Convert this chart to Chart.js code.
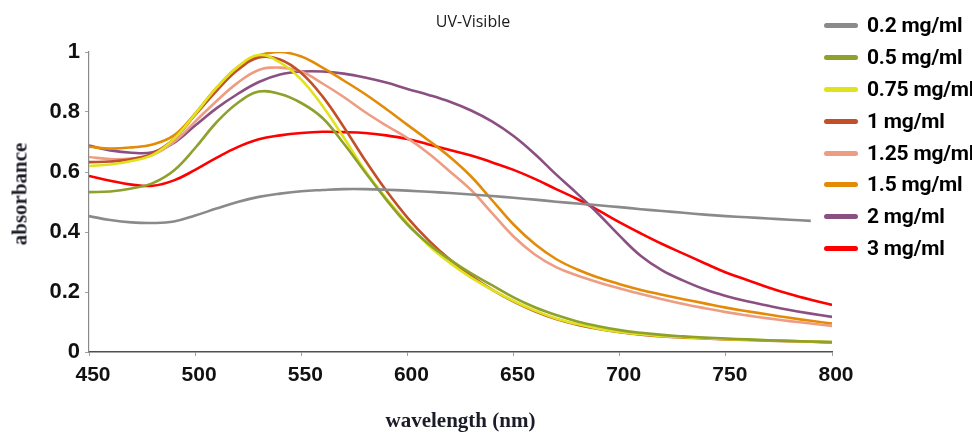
<!DOCTYPE html>
<html>
<head>
<meta charset="utf-8">
<script src="https://cdn.jsdelivr.net/npm/chart.js@4.4.1/dist/chart.umd.min.js"></script>
<style>
  html, body { margin: 0; padding: 0; background: #ffffff; }
  #wrap { position: relative; width: 972px; height: 432px; overflow: hidden; background: #fff; }
  #c { position: absolute; left: 0; top: 0; }
  #title { position: absolute; left: 473px; top: 21px; transform: translate(-50%, -50%);
           font-family: 'Open Sans', 'Liberation Sans', sans-serif; font-size: 16px; color: #1a1a1a; white-space: nowrap; line-height: 1; }
  #ytitle { position: absolute; left: 20px; top: 194px; transform: translate(-50%, -50%) rotate(-90deg);
            font-family: 'Liberation Serif', serif; font-weight: bold; font-size: 21px; color: #1c1c28; white-space: nowrap; line-height: 1; }
  #legend { position: absolute; left: 824px; top: 9px; }
  .item { position: relative; height: 31.9px; white-space: nowrap; }
  .swatch { position: absolute; left: 0; top: 14px; width: 34px; height: 5px; border-radius: 2.5px; }
  .lbl { position: absolute; left: 43px; top: 4px; font-family: Roboto, 'Liberation Sans', sans-serif; font-weight: bold;
         font-size: 21px; line-height: 24px; color: #000; letter-spacing: -0.2px; }
</style>
</head>
<body>
<div id="wrap">
  <canvas id="c" width="972" height="432"></canvas>
  <div id="title">UV-Visible</div>
  <div id="ytitle">absorbance</div>
  <div id="legend"></div>
</div>
<script>
// ---- data ----
const wavelengths = [450,460,470,480,490,500,510,520,530,540,550,560,570,580,590,600,610,620,630,640,650,660,670,680,690,700,710,720,730,740,750,760,770,780,790,800];

const seriesLabels = ['0.2 mg/ml','0.5 mg/ml','0.75 mg/ml','1 mg/ml','1.25 mg/ml','1.5 mg/ml','2 mg/ml','3 mg/ml'];
const seriesColors = ['#8a8a8a','#8ea12c','#e0e31c','#c1502a','#ee9d82','#e38b07','#8b5082','#ff0000'];

const abs02  = [0.453,0.440,0.432,0.430,0.435,0.455,0.478,0.500,0.517,0.528,0.536,0.540,0.543,0.543,0.541,0.538,0.534,0.530,0.525,0.520,0.514,0.508,0.501,0.495,0.489,0.483,0.476,0.470,0.464,0.458,0.453,0.449,0.445,0.441,0.437,null];
const abs05  = [0.533,0.535,0.545,0.563,0.605,0.680,0.765,0.830,0.868,0.860,0.830,0.780,0.695,0.600,0.508,0.425,0.360,0.308,0.262,0.222,0.182,0.149,0.123,0.102,0.086,0.073,0.064,0.057,0.052,0.048,0.045,0.042,0.039,0.037,0.035,0.033];
const abs075 = [0.620,0.625,0.637,0.657,0.710,0.793,0.880,0.950,0.990,0.965,0.908,0.820,0.715,0.605,0.512,0.430,0.355,0.297,0.248,0.207,0.170,0.138,0.112,0.093,0.078,0.067,0.059,0.053,0.049,0.046,0.043,0.041,0.039,0.037,0.035,0.033];
const abs1   = [0.633,0.635,0.643,0.662,0.710,0.790,0.870,0.940,0.982,0.975,0.930,0.852,0.750,0.640,0.538,0.448,0.372,0.308,0.253,0.207,0.168,0.136,0.110,0.091,0.077,0.066,0.058,0.052,0.048,0.045,0.042,0.040,0.038,0.036,0.034,0.032];
const abs125 = [0.650,0.643,0.645,0.657,0.700,0.768,0.836,0.897,0.940,0.948,0.935,0.895,0.850,0.800,0.755,0.713,0.662,0.602,0.540,0.462,0.385,0.325,0.283,0.255,0.232,0.212,0.193,0.176,0.160,0.146,0.133,0.122,0.112,0.103,0.095,0.087];
const abs15  = [0.684,0.678,0.682,0.692,0.722,0.795,0.880,0.950,0.988,1.000,0.985,0.948,0.905,0.860,0.810,0.757,0.705,0.650,0.585,0.505,0.425,0.360,0.310,0.275,0.248,0.226,0.207,0.191,0.176,0.162,0.148,0.136,0.125,0.114,0.104,0.095];
const abs2   = [0.688,0.672,0.664,0.666,0.697,0.755,0.812,0.860,0.900,0.925,0.935,0.935,0.928,0.915,0.898,0.877,0.857,0.834,0.805,0.768,0.720,0.660,0.592,0.528,0.460,0.387,0.320,0.272,0.238,0.209,0.187,0.169,0.154,0.140,0.128,0.117];
const abs3   = [0.587,0.571,0.558,0.554,0.572,0.607,0.647,0.683,0.709,0.722,0.730,0.734,0.733,0.730,0.722,0.710,0.692,0.673,0.655,0.632,0.607,0.577,0.543,0.510,0.472,0.432,0.395,0.360,0.328,0.296,0.265,0.240,0.215,0.193,0.174,0.157];

const seriesValues = [abs02, abs05, abs075, abs1, abs125, abs15, abs2, abs3];
const yTickValues = [0, 0.2, 0.4, 0.6, 0.8, 1];
const xTickValues = [450, 500, 550, 600, 650, 700, 750, 800];

// ---- legend (HTML, real text) ----
const legend = document.getElementById('legend');
seriesLabels.forEach((lab, i) => {
  const it = document.createElement('div'); it.className = 'item';
  const sw = document.createElement('div'); sw.className = 'swatch'; sw.style.background = seriesColors[i];
  const tx = document.createElement('div'); tx.className = 'lbl'; tx.textContent = lab;
  it.appendChild(sw); it.appendChild(tx); legend.appendChild(it);
});

// ---- chart ----
const datasets = seriesLabels.map((lab, i) => ({
  label: lab,
  data: wavelengths.map((w, j) => ({ x: w, y: seriesValues[i][j] })),
  borderColor: seriesColors[i],
  backgroundColor: seriesColors[i],
  borderWidth: 2.6,
  pointRadius: 0,
  fill: false,
  tension: 0.4,
  spanGaps: false
}));

new Chart(document.getElementById('c'), {
  type: 'line',
  data: { datasets },
  options: {
    responsive: false,
    animation: false,
    devicePixelRatio: 1,
    layout: { padding: { top: 52, right: 140, bottom: 0, left: 0 } },
    plugins: { legend: { display: false }, title: { display: false }, tooltip: { enabled: false } },
    scales: {
      x: {
        type: 'linear',
        min: 450, max: 800,
        afterFit: s => { s.height = 80; },
        afterBuildTicks: s => { s.ticks = xTickValues.map(v => ({ value: v })); },
        border: { display: true, color: '#505050', width: 1.5 },
        grid: { display: true, drawOnChartArea: false, drawTicks: true, tickLength: 4, color: '#a0a0a0' },
        ticks: {
          padding: 7, labelOffset: 4, maxRotation: 0, autoSkip: false,
          color: '#111111',
          font: { family: "'Liberation Sans', Arial, sans-serif", size: 21, weight: 'bold' },
          callback: v => String(v)
        },
        title: {
          display: true, text: 'wavelength (nm)', color: '#1c1c28',
          font: { family: "'Liberation Serif', serif", size: 21, weight: 'bold', lineHeight: 1 },
          padding: { top: 0, bottom: 0 }
        }
      },
      y: {
        type: 'linear',
        min: 0, max: 1,
        afterFit: s => { s.width = 89; },
        afterBuildTicks: s => { s.ticks = yTickValues.map(v => ({ value: v })); },
        border: { display: true, color: '#8a8a8a', width: 1.2 },
        grid: { display: true, drawOnChartArea: false, drawTicks: true, tickLength: 4, color: '#a0a0a0' },
        ticks: {
          padding: 5,
          color: '#111111',
          font: { family: "'Liberation Sans', Arial, sans-serif", size: 22, weight: 'bold' },
          callback: v => String(Math.round(v * 10) / 10)
        }
      }
    }
  }
});
</script>
</body>
</html>
